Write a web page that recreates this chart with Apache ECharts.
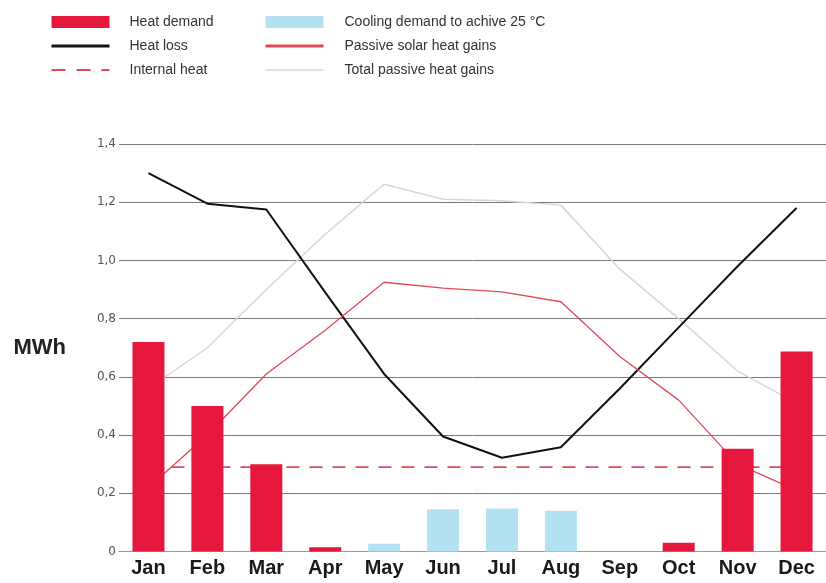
<!DOCTYPE html>
<html>
<head>
<meta charset="utf-8">
<script src="https://cdn.jsdelivr.net/npm/echarts@6/dist/echarts.min.js"></script>
<style>
html,body{margin:0;padding:0;background:#fff;}
#chart{width:826px;height:583px;}
</style>
</head>
<body>
<div id="chart"></div>
<script>
const categories = ['Jan','Feb','Mar','Apr','May','Jun','Jul','Aug','Sep','Oct','Nov','Dec'];
const yTicks = [0, 0.2, 0.4, 0.6, 0.8, 1.0, 1.2, 1.4];
const heatDemand = [0.72, 0.50, 0.30, 0.015, 0, 0, 0, 0, 0, 0.03, 0.353, 0.687];
const coolingDemand = [0, 0, 0, 0, 0.027, 0.145, 0.148, 0.14, 0, 0, 0, 0];
const heatLoss = [1.30, 1.195, 1.175, 0.89, 0.61, 0.395, 0.322, 0.358, 0.56, 0.77, 0.98, 1.18];
const internalHeat = [0.29, 0.29, 0.29, 0.29, 0.29, 0.29, 0.29, 0.29, 0.29, 0.29, 0.29, 0.29];
const passiveSolar = [0.22, 0.40, 0.61, 0.76, 0.925, 0.905, 0.892, 0.858, 0.67, 0.52, 0.30, 0.21];
const totalPassive = [0.56, 0.70, 0.90, 1.09, 1.262, 1.21, 1.205, 1.19, 0.97, 0.80, 0.62, 0.51];

const RED = '#e6173d';
const BLUE = '#b5e2f3';
const LINE_RED = '#e04a57';
const GRAY = '#d6d6d6';

const chart = echarts.init(document.getElementById('chart'), null, {renderer: 'canvas'});
const textStyle1 = {color: '#333', fontFamily: 'Liberation Sans', fontSize: 14, padding: [0, 0, 0, 15]};
const textStyle2 = {color: '#333', fontFamily: 'Liberation Sans', fontSize: 14, padding: [0, 0, 0, 16]};
const hideSym = {opacity: 0};
chart.setOption({
  animation: false,
  backgroundColor: '#fff',
  legend: [
    {
      orient: 'vertical', left: 50, top: 15, padding: 0, itemWidth: 58, itemHeight: 12, itemGap: 10,
      textStyle: textStyle1,
      data: [
        {name: 'Heat demand', icon: 'rect'},
        {name: 'Heat loss', lineStyle: {width: 3}, itemStyle: hideSym},
        {name: 'Internal heat', lineStyle: {width: 2, type: [14, 11]}, itemStyle: hideSym}
      ]
    },
    {
      orient: 'vertical', left: 264, top: 15, padding: 0, itemWidth: 58, itemHeight: 12, itemGap: 10,
      textStyle: textStyle2,
      data: [
        {name: 'Cooling demand to achive 25 °C', icon: 'rect'},
        {name: 'Passive solar heat gains', lineStyle: {width: 3}, itemStyle: hideSym},
        {name: 'Total passive heat gains', lineStyle: {width: 1.5}, itemStyle: hideSym}
      ]
    }
  ],
  grid: {left: 119, right: -7, top: 144, bottom: 31.5, containLabel: false},
  xAxis: {
    type: 'category',
    data: categories,
    boundaryGap: true,
    axisLine: {show: true, lineStyle: {color: '#9a9a9a', width: 1}},
    axisTick: {show: false},
    axisLabel: {color: '#1a1a1a', fontWeight: 'bold', fontSize: 20, fontFamily: 'Liberation Sans', margin: 7}
  },
  yAxis: {
    type: 'value',
    min: yTicks[0],
    max: yTicks[yTicks.length - 1],
    interval: 0.2,
    name: 'MWh',
    nameLocation: 'middle',
    nameRotate: 0,
    nameGap: 53,
    nameTextStyle: {color: '#222', fontWeight: 'bold', fontSize: 22, fontFamily: 'Liberation Sans', align: 'right'},
    axisLine: {show: false},
    axisTick: {show: false},
    axisLabel: {
      color: '#555', fontSize: 12, fontFamily: 'DejaVu Sans', margin: 3,
      formatter: v => v === 0 ? '0' : v.toFixed(1).replace('.', ',')
    },
    splitLine: {show: true, lineStyle: {color: '#7a7a7a', width: 1}}
  },
  series: [
    {
      name: 'Heat demand', type: 'bar', stack: 'demand', data: heatDemand,
      barWidth: 32, itemStyle: {color: RED}, z: 5
    },
    {
      name: 'Cooling demand to achive 25 °C', type: 'bar', stack: 'demand', data: coolingDemand,
      barWidth: 32, itemStyle: {color: BLUE}, z: 5
    },
    {
      name: 'Heat loss', type: 'line', data: heatLoss, symbol: 'none',
      lineStyle: {color: '#111', width: 2}, itemStyle: {color: '#111'}, z: 3
    },
    {
      name: 'Internal heat', type: 'line', data: internalHeat, symbol: 'none',
      lineStyle: {color: LINE_RED, width: 1.6, type: [13, 10]}, itemStyle: {color: LINE_RED}, z: 3
    },
    {
      name: 'Passive solar heat gains', type: 'line', data: passiveSolar, symbol: 'none',
      lineStyle: {color: LINE_RED, width: 1.3}, itemStyle: {color: LINE_RED}, z: 3
    },
    {
      name: 'Total passive heat gains', type: 'line', data: totalPassive, symbol: 'none',
      lineStyle: {color: GRAY, width: 1.5}, itemStyle: {color: GRAY}, z: 2
    }
  ]
});
</script>
</body>
</html>
